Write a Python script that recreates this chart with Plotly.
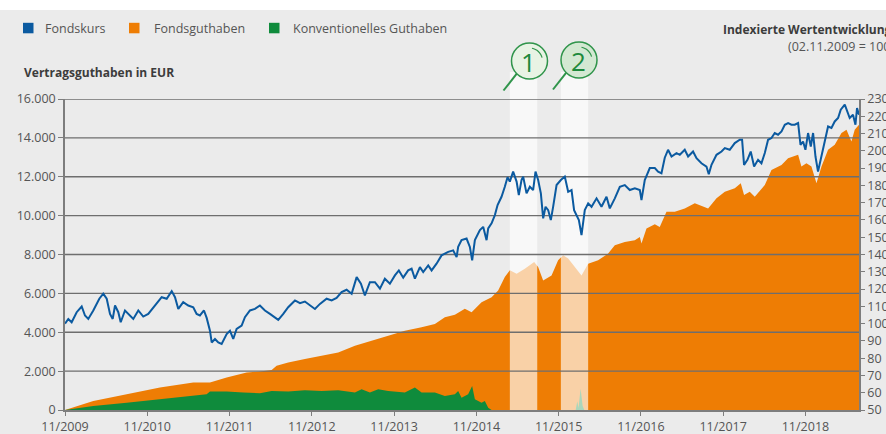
import math
import plotly.graph_objects as go

# ---------------- data ----------------
X_START = 2009.833   # 02.11.2009
X_END = 2019.484

# Fondskurs (indexed, right axis) - decimal year / index value
KURS_T = [
    2009.833, 2009.873, 2009.914, 2009.975, 2010.036, 2010.076, 2010.116, 2010.177, 2010.250, 2010.298, 2010.340,
    2010.380, 2010.413, 2010.441, 2010.481, 2010.510, 2010.562, 2010.602, 2010.663, 2010.724, 2010.784,
    2010.845, 2010.886, 2010.947, 2011.008, 2011.069, 2011.130, 2011.170, 2011.210, 2011.270, 2011.331, 2011.392,
    2011.433, 2011.473, 2011.522, 2011.555, 2011.595, 2011.616, 2011.656, 2011.696, 2011.737, 2011.798,
    2011.838, 2011.878, 2011.919, 2011.980, 2012.020, 2012.081, 2012.142, 2012.202, 2012.263, 2012.324, 2012.385,
    2012.425, 2012.486, 2012.546, 2012.628, 2012.689, 2012.749, 2012.810,
    2012.871, 2012.932, 2013.013, 2013.074, 2013.134, 2013.195, 2013.256, 2013.317, 2013.378, 2013.430, 2013.478,
    2013.539, 2013.600, 2013.661, 2013.721, 2013.782,
    2013.843, 2013.891, 2013.944, 2014.004, 2014.046, 2014.086, 2014.147, 2014.187, 2014.248, 2014.289, 2014.349,
    2014.410, 2014.491, 2014.551, 2014.593, 2014.612, 2014.653, 2014.714, 2014.754, 2014.782, 2014.815,
    2014.876, 2014.916, 2014.957, 2014.977, 2015.018, 2015.058, 2015.091, 2015.139, 2015.179, 2015.212, 2015.240,
    2015.280, 2015.322, 2015.349, 2015.382, 2015.402, 2015.443, 2015.483, 2015.523, 2015.552, 2015.584, 2015.617,
    2015.645, 2015.674, 2015.706, 2015.738, 2015.766, 2015.808,
    2015.860, 2015.908, 2015.949, 2015.990, 2016.021, 2016.050, 2016.079, 2016.111, 2016.151, 2016.192, 2016.233,
    2016.294, 2016.354, 2016.415, 2016.455, 2016.516, 2016.577, 2016.637, 2016.698, 2016.759, 2016.820,
    2016.840, 2016.880, 2016.941, 2017.002, 2017.042, 2017.083, 2017.123, 2017.163, 2017.205, 2017.266, 2017.306,
    2017.366, 2017.407, 2017.467, 2017.509, 2017.569, 2017.630, 2017.658, 2017.691, 2017.752, 2017.813,
    2017.853, 2017.913, 2017.974, 2018.035, 2018.063, 2018.087, 2018.128, 2018.168, 2018.209, 2018.257, 2018.298,
    2018.339, 2018.379, 2018.420, 2018.460, 2018.500, 2018.542, 2018.582, 2018.622, 2018.663, 2018.703, 2018.744,
    2018.773, 2018.804,
    2018.833, 2018.865, 2018.898, 2018.926, 2018.955, 2018.986, 2019.028, 2019.068, 2019.108, 2019.149, 2019.189,
    2019.230, 2019.262, 2019.311, 2019.343, 2019.371, 2019.411, 2019.441, 2019.460, 2019.484,
]
KURS_V = [
    100, 102.7, 100.8, 106.6, 109.9, 104.7, 102.7, 107.6, 114.4, 117.3, 114.4,
    105.6, 102.7, 110.5, 106.6, 100.8, 107.6, 105.6, 102.7, 107.6, 104.1,
    105.6, 108, 111.8, 115.3, 114.4, 118.8, 115.3, 108.5, 112.4, 110.5, 109.5,
    105.6, 104.7, 107.6, 103.3, 95.9, 89.1, 91.1, 89.1, 88.2, 94.0,
    95.9, 91.1, 96.9, 98.8, 103.7, 107.6, 108.5, 110.5, 107.6, 105.6, 103.7,
    102.2, 105.6, 109.5, 113.4, 111.8, 112.8, 110.5,
    108.5, 111.4, 114.4, 113.4, 114.9, 118.2, 119.6, 117.3, 126.9, 123.1, 116.3,
    124, 124, 120.2, 126, 123.1,
    127.9, 130.8, 126.6, 130.8, 131.8, 126, 132.7, 129.8, 133.7, 130.8, 134.7,
    139.5, 141.5, 142.4, 138.5, 144.4, 148.3, 149.2, 144.4, 136.6, 148.3,
    154.1, 156, 148.3, 155.1, 158, 162.8, 168.6, 173.4, 179.2, 184.7, 182.2,
    188, 182.2, 174.4, 183.1, 185.1, 175.4, 179.2, 177.3, 188, 183.1, 175.4,
    160.9, 167.6, 165.7, 159.9, 167.6, 180.2,
    183.1, 185.1, 176.3, 177.3, 165.7, 162.8, 159.9, 151.2, 165.7, 169.6, 167.6,
    172.5, 167.6, 173.4, 166.7, 172.5, 179.2, 180.2, 177.3, 178.3, 177.3,
    171.5, 183.1, 190, 190, 188, 187, 196, 200.6, 196.7, 198.7, 197.7,
    200.6, 196.7, 199.6, 195.7, 192.8, 190.9, 186.4, 191.9, 197.7, 199.6,
    201.6, 200.6, 204.5, 206.4, 206.4, 191.9, 194.8, 199.6, 190.9, 194.8, 192.8,
    198.7, 206.4, 207.4, 210.3, 209.3, 211.2, 215.1, 216.1, 215.1, 215.1, 216.1,
    203.5, 205.4,
    200.6, 210.3, 202.5, 210.3, 196.7, 188, 197.7, 206.4, 214.1, 213.2, 217,
    219, 223.8, 226.7, 222.8, 219, 220.9, 215.1, 224.8, 220.9,
]

# Fondsguthaben (EUR, left axis)
GUTHABEN_T = [
    2009.833, 2010.177, 2010.583, 2010.987, 2011.392, 2011.595, 2011.798, 2012.041, 2012.202, 2012.345,
    2012.405, 2012.546, 2012.749, 2012.952, 2013.154, 2013.357, 2013.560, 2013.761, 2013.964, 2014.167,
    2014.329, 2014.450, 2014.572, 2014.693, 2014.775, 2014.896, 2015.018, 2015.098, 2015.179, 2015.240,
    2015.322, 2015.422, 2015.536, 2015.584, 2015.645, 2015.747, 2015.827, 2015.888, 2015.949, 2016.030,
    2016.111, 2016.192, 2016.313, 2016.435, 2016.516, 2016.637, 2016.759, 2016.820, 2016.840, 2016.901,
    2017.002, 2017.062, 2017.144, 2017.245, 2017.366, 2017.488, 2017.650, 2017.752, 2017.853, 2017.974,
    2018.047, 2018.087, 2018.156, 2018.217, 2018.339, 2018.420, 2018.542, 2018.622, 2018.744, 2018.784,
    2018.845, 2018.906, 2018.967, 2019.028, 2019.108, 2019.189, 2019.271, 2019.332, 2019.392, 2019.432,
    2019.484,
]
GUTHABEN_V = [
    0, 465, 811, 1152, 1411, 1411, 1669, 1928, 1979, 2052,
    2274, 2444, 2620, 2791, 2961, 3308, 3566, 3824, 4083, 4253,
    4429, 4770, 4900, 5204, 5029, 5545, 5804, 6150, 6837, 7184,
    7013, 7271, 7612, 7354, 6667, 6925, 7700, 7959, 7788, 7354,
    6925, 7530, 7700, 8047, 8475, 8646, 8734, 8905, 8563, 9339,
    9550, 9421, 10197, 10197, 10372, 10631, 10372, 10889, 11230, 11406,
    11664, 11060, 11230, 10972, 11576, 12352, 12610, 12956, 13127, 12522,
    12698, 12522, 11664, 12522, 13385, 13643, 14248, 14419, 13814, 14419,
    14677,
]

# Konventionelles Guthaben (EUR, left axis)
KONV_T = [
    2009.833, 2010.177, 2010.583, 2010.987, 2011.392, 2011.555, 2011.595, 2011.798, 2012.000, 2012.202,
    2012.345, 2012.546, 2012.749, 2012.952, 2013.154, 2013.357, 2013.438, 2013.539, 2013.640, 2013.761,
    2013.964, 2014.086, 2014.167, 2014.329, 2014.450, 2014.572, 2014.612, 2014.653, 2014.733, 2014.782,
    2014.815, 2014.896, 2014.936, 2014.977, 2015.018, 2016.040, 2016.060, 2016.075, 2016.100, 2016.125,
    2016.145, 2019.484,
]
KONV_V = [
    0, 207, 377, 553, 724, 811, 946, 946, 894, 863,
    982, 946, 1018, 982, 1018, 894, 1070, 894, 1070, 982,
    894, 1152, 894, 894, 724, 811, 982, 636, 811, 1240,
    553, 377, 465, 119, 0, 0, 450, 100, 1100, 200,
    0, 0,
]

# highlighted periods (1) and (2)
BAND_START = [2015.240, 2015.860]
BAND_END = [2015.573, 2016.192]
BAND_LABELS = ["1", "2"]

LEFT_TICKS = [0, 2000, 4000, 6000, 8000, 10000, 12000, 14000, 16000]
LEFT_TICK_TEXT = ["0", "2.000", "4.000", "6.000", "8.000", "10.000", "12.000", "14.000", "16.000"]
RIGHT_TICKS = list(range(50, 231, 10))
X_TICK_VALS = [X_START + i for i in range(10)]
X_TICK_TEXT = ["11/2009", "11/2010", "11/2011", "11/2012", "11/2013",
               "11/2014", "11/2015", "11/2016", "11/2017", "11/2018"]

SERIES_NAMES = ["Fondskurs", "Fondsguthaben", "Konventionelles Guthaben"]

# ---------------- styling ----------------
W, H = 886, 434
ML, MR, MT, MB = 65, 27, 99, 24
PW, PH = W - ML - MR, H - MT - MB

BLUE = "#0b5aa0"
ORANGE = "#ee7d04"
GREEN = "#0f8b3c"
BG = "#ebebeb"
GRID = "#6e6e6e"
AXIS = "#7d7d7d"
TXT = "#555555"
FONT = "'Open Sans', sans-serif"
FS = 12.5


def px(X):
    return (X - ML) / PW


def py(Y):
    return (H - MB - Y) / PH


def tx(t):
    return (t - X_START) / (X_END - X_START)


fig = go.Figure()

fig.add_trace(go.Scatter(x=GUTHABEN_T, y=GUTHABEN_V, mode="lines", line=dict(width=0, color=ORANGE),
                         fill="tozeroy", fillcolor=ORANGE, hoverinfo="skip", showlegend=False))
fig.add_trace(go.Scatter(x=KONV_T, y=KONV_V, mode="lines", line=dict(width=0, color=GREEN),
                         fill="tozeroy", fillcolor=GREEN, hoverinfo="skip", showlegend=False))

# band overlays (between areas and line)
for s, e in zip(BAND_START, BAND_END):
    fig.add_trace(go.Scatter(x=[s, e, e, s, s],
                             y=[LEFT_TICKS[0], LEFT_TICKS[0], LEFT_TICKS[-1], LEFT_TICKS[-1], LEFT_TICKS[0]],
                             mode="lines", line=dict(width=0), fill="toself",
                             fillcolor="rgba(255,255,255,0.65)", hoverinfo="skip", showlegend=False))

# grid lines drawn over the areas
gx, gy = [], []
for v in LEFT_TICKS[1:]:
    gx += [X_START, X_END, None]
    gy += [v, v, None]
fig.add_trace(go.Scatter(x=gx, y=gy, mode="lines", line=dict(width=1.4, color=GRID),
                         hoverinfo="skip", showlegend=False))

fig.add_trace(go.Scatter(x=KURS_T, y=KURS_V, mode="lines", yaxis="y2",
                         line=dict(width=2, color=BLUE), hoverinfo="skip", showlegend=False))

shapes = []
annotations = []

# white strip at top of the image
shapes.append(dict(type="rect", xref="paper", yref="paper", x0=px(-5), x1=px(W + 5), y0=py(10), y1=py(-5),
                   fillcolor="white", line=dict(width=0), layer="below"))
# band continuation above the plot area
for s, e in zip(BAND_START, BAND_END):
    shapes.append(dict(type="rect", xref="paper", yref="paper", x0=tx(s), x1=tx(e), y0=1, y1=py(72),
                       fillcolor="#f8f8f8", line=dict(width=0), layer="below"))

# legend
legend_items = [(23, 43, BLUE), (129, 152, ORANGE), (269, 291, GREEN)]
for (sx, tx0, col), name in zip(legend_items, SERIES_NAMES):
    shapes.append(dict(type="rect", xref="paper", yref="paper", x0=px(sx), x1=px(sx + 10.5),
                       y0=py(33.3), y1=py(22.8), fillcolor=col, line=dict(width=0)))
    annotations.append(dict(text=name, xref="paper", yref="paper", x=px(tx0), y=py(28.5),
                            xanchor="left", yanchor="middle", showarrow=False,
                            font=dict(family=FONT, size=FS, color=TXT)))

annotations.append(dict(text="<b>Vertragsguthaben in EUR</b>", xref="paper", yref="paper", x=px(22), y=py(73),
                        xanchor="left", yanchor="middle", showarrow=False,
                        font=dict(family=FONT, size=12, color="#3c3c3c")))
annotations.append(dict(text="<b>Indexierte Wertentwicklung</b>", xref="paper", yref="paper", x=px(721),
                        y=py(29), xanchor="left", yanchor="middle", showarrow=False,
                        font=dict(family=FONT, size=12, color="#3c3c3c")))
annotations.append(dict(text="(02.11.2009 = 100)", xref="paper", yref="paper", x=px(786), y=py(47),
                        xanchor="left", yanchor="middle", showarrow=False,
                        font=dict(family=FONT, size=FS, color=TXT)))

# magnifier markers
circ = [(529.5, 61, "#e8f3e4"), (579, 60, "#d3e8d2")]
R = 18
GC = "#2f944a"
for (cx, cy, fc), lab in zip(circ, BAND_LABELS):
    a = math.radians(225)
    hx0, hy0 = cx + R * math.cos(a), cy - R * math.sin(a)
    shapes.append(dict(type="line", xref="paper", yref="paper", x0=px(hx0), y0=py(hy0),
                       x1=px(cx - 26), y1=py(cy + 29.5), line=dict(color=GC, width=2)))
    shapes.append(dict(type="circle", xref="paper", yref="paper", x0=px(cx - R), x1=px(cx + R),
                       y0=py(cy + R), y1=py(cy - R), fillcolor=fc, line=dict(color=GC, width=1.5)))
    pts = []
    for k in range(9):
        ang = math.radians(15 + k * 8)
        pts.append((px(cx + 13 * math.cos(ang)), py(cy - 13 * math.sin(ang))))
    path = "M " + " L ".join(f"{u:.5f},{v:.5f}" for u, v in pts)
    shapes.append(dict(type="path", xref="paper", yref="paper", path=path,
                       line=dict(color=GC, width=1.2)))
    annotations.append(dict(text=lab, xref="paper", yref="paper", x=px(cx - 1), y=py(cy + 1),
                            xanchor="center", yanchor="middle", showarrow=False,
                            font=dict(family=FONT, size=26, color="#1d8a3c")))

axis_common = dict(showgrid=False, zeroline=False, showline=True, linecolor=AXIS, linewidth=1.5,
                   ticks="outside", tickcolor=AXIS, tickwidth=1, automargin=False,
                   tickfont=dict(family=FONT, size=FS, color=TXT), fixedrange=True)

fig.update_layout(
    width=W, height=H, autosize=False,
    margin=dict(l=ML, r=MR, t=MT, b=MB, pad=0, autoexpand=False),
    paper_bgcolor=BG, plot_bgcolor=BG,
    showlegend=False,
    font=dict(family=FONT, size=FS, color=TXT),
    xaxis=dict(range=[X_START, X_END], tickvals=X_TICK_VALS, ticktext=X_TICK_TEXT, ticklen=4, **axis_common),
    yaxis=dict(range=[LEFT_TICKS[0], LEFT_TICKS[-1]], tickvals=LEFT_TICKS, ticktext=LEFT_TICK_TEXT,
               ticklen=5, **axis_common),
    yaxis2=dict(range=[RIGHT_TICKS[0], RIGHT_TICKS[-1]], tickvals=RIGHT_TICKS, overlaying="y", side="right",
                ticklen=4, **axis_common),
    shapes=shapes,
    annotations=annotations,
)

fig.write_html("out.html", config={"displayModeBar": False, "responsive": False},
               post_script="document.body.style.margin='0';document.body.style.overflow='hidden';")
